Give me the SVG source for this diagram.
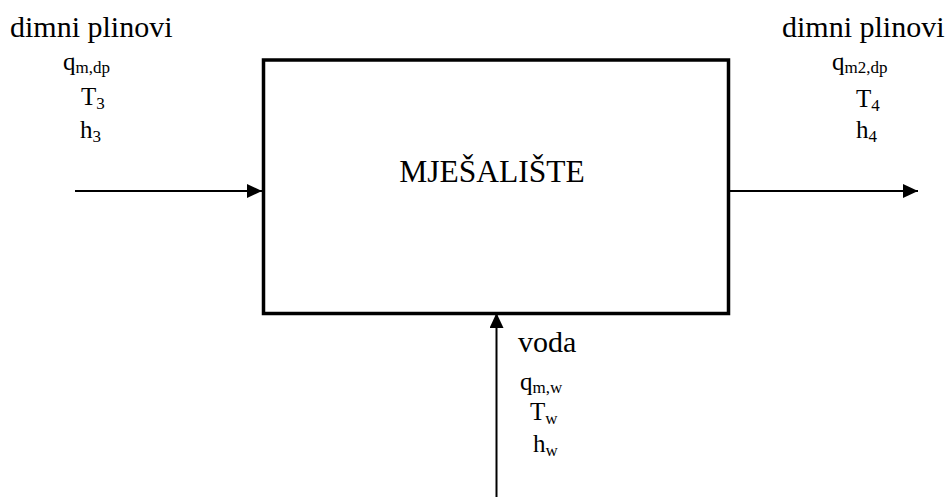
<svg xmlns="http://www.w3.org/2000/svg" width="946" height="497" viewBox="0 0 946 497">
<style>
text{font-family:'Liberation Serif','Times New Roman',serif;fill:#000}
.lbl{font-size:30px}
.v{font-size:25px}
.s{font-size:17px}
.conn{stroke:#000;stroke-width:2;fill:none}
</style>
<defs>
<marker id="ah" markerWidth="15" markerHeight="14" refX="15" refY="7" orient="auto" markerUnits="userSpaceOnUse">
<path d="M0,0 L15,7 L0,14 Z" fill="#000"/>
</marker>
</defs>
<rect width="946" height="497" fill="#fff"/>
<g id="mjesaliste">
<rect x="263.5" y="60" width="465" height="253.5" fill="#fff" stroke="#000" stroke-width="3.5"/>
<text x="492" y="182" font-size="31.5" text-anchor="middle">MJEŠALIŠTE</text>
</g>
<g id="connectors">
<line class="conn" x1="75" y1="191" x2="262" y2="191" marker-end="url(#ah)"/>
<line class="conn" x1="730" y1="191" x2="918" y2="191" marker-end="url(#ah)"/>
<line class="conn" x1="496.5" y1="497" x2="496.5" y2="313" marker-end="url(#ah)"/>
</g>
<g id="ulaz-dimni">
<text class="lbl" x="10" y="37">dimni plinovi</text>
<text class="v" x="63" y="70">q<tspan class="s" dy="3">m,dp</tspan></text>
<text class="v" x="81" y="105">T<tspan class="s" dy="4">3</tspan></text>
<text class="v" x="80" y="138">h<tspan class="s" dy="4">3</tspan></text>
</g>
<g id="izlaz-dimni">
<text class="lbl" x="782" y="37">dimni plinovi</text>
<text class="v" x="832" y="70">q<tspan class="s" dy="3">m2,dp</tspan></text>
<text class="v" x="856" y="107">T<tspan class="s" dy="4">4</tspan></text>
<text class="v" x="856" y="138">h<tspan class="s" dy="4">4</tspan></text>
</g>
<g id="ulaz-voda">
<text class="lbl" x="518" y="352">voda</text>
<text class="v" x="520" y="390">q<tspan class="s" dy="3">m,w</tspan></text>
<text class="v" x="530" y="420">T<tspan class="s" dy="4">w</tspan></text>
<text class="v" x="533" y="452">h<tspan class="s" dy="4">w</tspan></text>
</g>
</svg>
